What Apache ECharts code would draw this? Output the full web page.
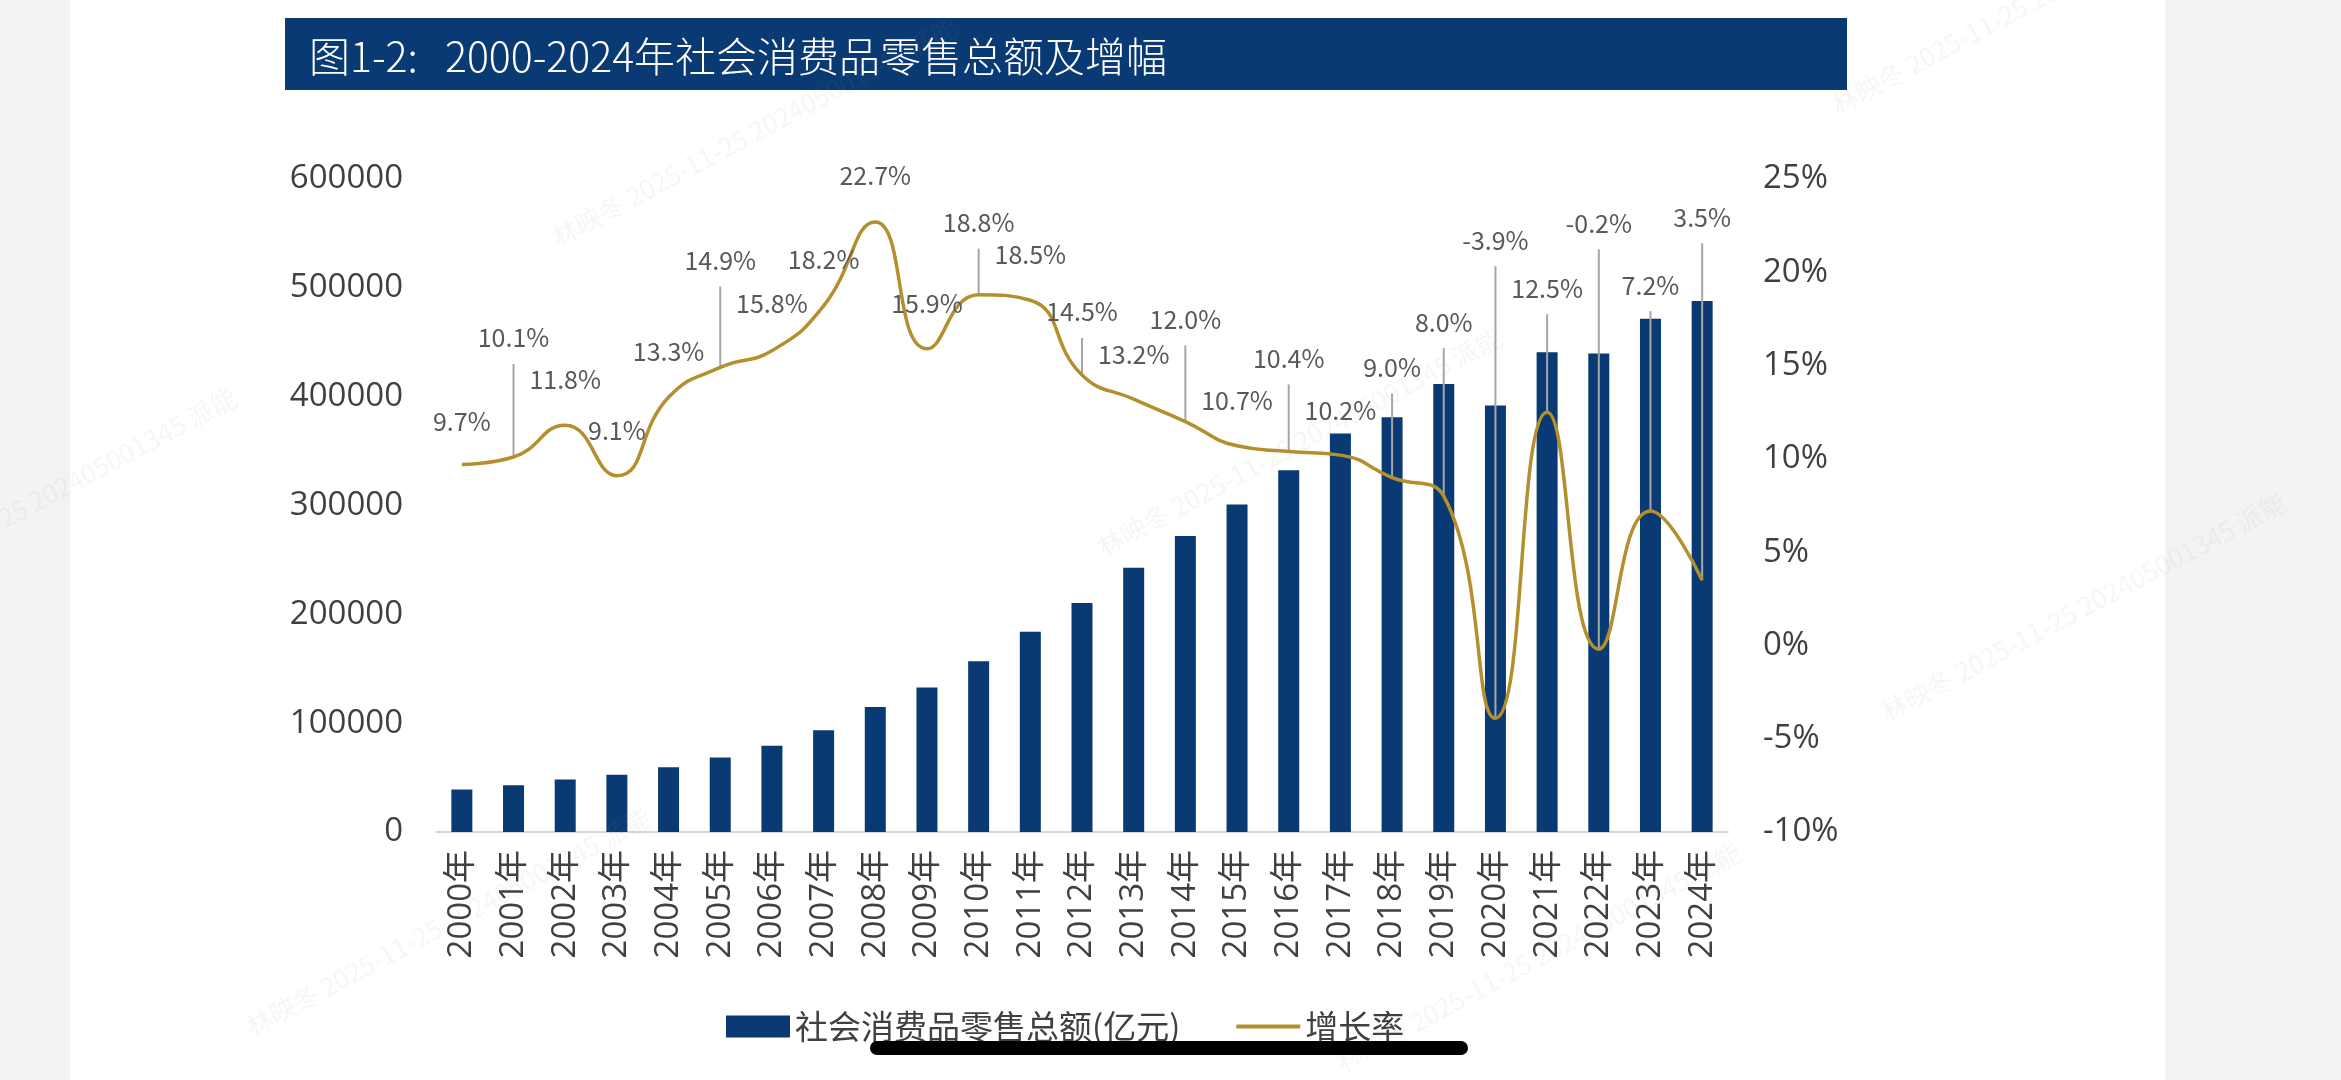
<!DOCTYPE html>
<html>
<head>
<meta charset="utf-8">
<script src="https://cdn.jsdelivr.net/npm/echarts@6/dist/echarts.min.js"></script>
<style>
  html, body { margin: 0; padding: 0; background: #fff; }
  #main { width: 2341px; height: 1080px; }
</style>
</head>
<body>
<div id="main"></div>
<script>
// 年份
var years = ['2000年','2001年','2002年','2003年','2004年','2005年','2006年','2007年','2008年','2009年',
             '2010年','2011年','2012年','2013年','2014年','2015年','2016年','2017年','2018年','2019年',
             '2020年','2021年','2022年','2023年','2024年'];
// 社会消费品零售总额(亿元)
var retailTotal = [39106, 43055, 48136, 52516, 59501, 68353, 79145, 93572, 114830, 132678,
                   156998, 183919, 210307, 242843, 271896, 300931, 332316, 366262, 380987, 411649,
                   391981, 440823, 439733, 471495, 487895];
// 增长率(%)
var growthRate = [9.7, 10.1, 11.8, 9.1, 13.3, 14.9, 15.8, 18.2, 22.7, 15.9,
                  18.8, 18.5, 14.5, 13.2, 12.0, 10.7, 10.4, 10.2, 9.0, 8.0,
                  -3.9, 12.5, -0.2, 7.2, 3.5];
// 左右轴刻度 [min, max, interval]
var leftTicks = [0, 600000, 100000];
var rightTicks = [-10, 25, 5];

// 数据标签离折线点的高度(px)，只用于排版
var labelLift = [43, 119, 46, 45, 46, 107, 47, 46, 46, 45,
                 72, 46, 63, 45, 102, 45, 93, 45, 110, 174,
                 478, 124, 426, 226, 363];

var NAVY = '#0a3a73';
var GOLD = '#b38f2e';
var FONT = "'Open Sans','Noto Sans CJK SC',sans-serif";
var CJK = "'Noto Sans CJK SC',sans-serif";

var myChart = echarts.init(document.getElementById('main'));

// 水印
var wmText = '林映冬 2025-11-25 202405001345 派能';
var wmPos = [[560, 250], [-160, 620], [1105, 560], [1889, 725], [254, 1040], [1344, 1075], [1840, 118]];
var watermarks = wmPos.map(function (p) {
  return {
    type: 'text', x: p[0], y: p[1], rotation: 28 * Math.PI / 180, z: 100, silent: true,
    style: { text: wmText, fill: 'rgba(140,140,140,0.08)', font: '26px ' + CJK, textVerticalAlign: 'bottom' }
  };
});

var option = {
  backgroundColor: '#ffffff',
  animation: false,
  graphic: [
    { type: 'rect', shape: { x: 0, y: 0, width: 70, height: 1080 }, style: { fill: '#f2f3f5' }, z: -10 },
    { type: 'rect', shape: { x: 2165, y: 0, width: 176, height: 1080 }, style: { fill: '#f2f3f5' }, z: -10 },
    { type: 'rect', shape: { x: 285, y: 18, width: 1562, height: 72 }, style: { fill: NAVY } },
    { type: 'text', x: 309, y: 56, style: { text: '图1-2:   2000-2024年社会消费品零售总额及增幅', fill: '#ffffff',
        font: '300 41px ' + CJK, textVerticalAlign: 'middle' } },
    { type: 'rect', shape: { x: 870, y: 1041, width: 598, height: 14, r: 7 }, style: { fill: '#000000' }, z: 200 }
  ].concat(watermarks),
  legend: {
    left: 721,
    top: 1005,
    itemWidth: 64,
    itemHeight: 22,
    itemGap: 56,
    symbolKeepAspect: true,
    textStyle: { fontSize: 33, color: '#404040', fontFamily: CJK },
    data: [
      { name: '社会消费品零售总额(亿元)', icon: 'rect' },
      { name: '增长率', icon: 'path://M0,0L100,0L100,6L0,6Z' }
    ]
  },
  grid: { left: 436, right: 613, top: 179, bottom: 248 },
  xAxis: {
    type: 'category',
    data: years,
    axisLine: { lineStyle: { color: '#d4d7dd', width: 2 } },
    axisTick: { show: false },
    axisLabel: { rotate: 90, fontSize: 33, color: '#404040', fontFamily: FONT, margin: 18 }
  },
  yAxis: [
    {
      type: 'value', min: leftTicks[0], max: leftTicks[1], interval: leftTicks[2],
      splitLine: { show: false }, axisLine: { show: false }, axisTick: { show: false },
      axisLabel: { fontSize: 33, color: '#404040', fontFamily: FONT, margin: 33,
        formatter: function (v) { return String(v); } }
    },
    {
      type: 'value', min: rightTicks[0], max: rightTicks[1], interval: rightTicks[2],
      splitLine: { show: false }, axisLine: { show: false }, axisTick: { show: false },
      axisLabel: { fontSize: 33, color: '#404040', fontFamily: FONT, margin: 35, formatter: '{value}%' }
    }
  ],
  series: [
    {
      name: '社会消费品零售总额(亿元)',
      type: 'bar',
      data: retailTotal,
      barWidth: 21,
      itemStyle: { color: NAVY },
      z: 2
    },
    {
      name: 'leaders',
      type: 'custom',
      yAxisIndex: 1,
      data: growthRate.map(function (v, i) { return [i, v]; }),
      z: 3,
      silent: true,
      renderItem: function (params, api) {
        var p = api.coord([api.value(0), api.value(1)]);
        var lift = labelLift[params.dataIndex];
        var kids = [];
        if (lift > 55) {
          kids.push({
            type: 'line',
            shape: { x1: p[0], y1: p[1], x2: p[0], y2: p[1] - lift + 26 },
            style: { stroke: '#a6a6a6', lineWidth: 2 }
          });
        }
        return { type: 'group', children: kids };
      }
    },
    {
      name: '增长率',
      type: 'line',
      yAxisIndex: 1,
      data: growthRate,
      smooth: 0.5,
      symbol: 'none',
      lineStyle: { color: GOLD, width: 3.5 },
      itemStyle: { color: GOLD },
      z: 4
    },
    {
      name: 'labels',
      type: 'custom',
      yAxisIndex: 1,
      data: growthRate.map(function (v, i) { return [i, v]; }),
      z: 6,
      silent: true,
      renderItem: function (params, api) {
        var p = api.coord([api.value(0), api.value(1)]);
        var lift = labelLift[params.dataIndex];
        return {
          type: 'text',
          x: p[0], y: p[1] - lift,
          style: {
            text: api.value(1).toFixed(1) + '%',
            fill: '#595959',
            font: '25px ' + CJK,
            textAlign: 'center',
            textVerticalAlign: 'middle'
          }
        };
      }
    }
  ]
};

if (option && typeof option === 'object') {
  myChart.setOption(option, true);
}
</script>
</body>
</html>
